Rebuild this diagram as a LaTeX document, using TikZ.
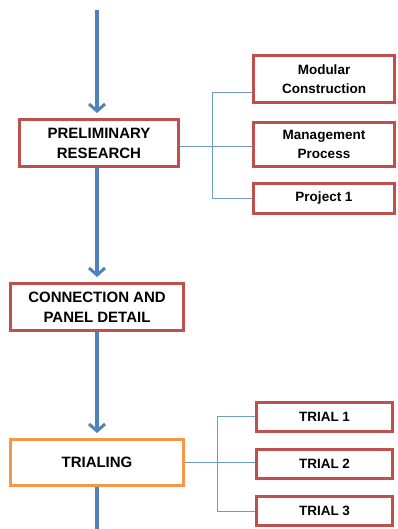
\documentclass[tikz,border=0pt]{standalone}
\usepackage{fontspec}
\setmainfont{Liberation Sans}
\usetikzlibrary{arrows.meta}
\definecolor{boxred}{HTML}{C0504D}
\definecolor{boxorange}{HTML}{F79646}
\definecolor{flowblue}{HTML}{4F81BD}
\definecolor{thinblue}{HTML}{7099CC}
\tikzset{
  mainbox/.style={draw=boxred, line width=3pt, fill=white, align=center,
    font=\fontsize{15}{20}\selectfont\bfseries, inner sep=0pt},
  subbox/.style={draw=boxred, line width=3pt, fill=white, align=center,
    font=\fontsize{13.5}{19}\selectfont\bfseries, inner sep=0pt},
  flow/.style={draw=flowblue, line width=4pt, -{Straight Barb[length=7pt,width=16pt,line width=3pt]}},
  flowplain/.style={draw=flowblue, line width=4pt},
  branch/.style={draw=thinblue, line width=0.8pt}
}
\begin{document}
\begin{tikzpicture}[x=1pt,y=-1pt]
\useasboundingbox[fill=white] (0,0) rectangle (398,529);

\node[mainbox, minimum width=159pt, minimum height=47pt] (prelim) at (99,143) {PRELIMINARY\\RESEARCH};
\node[mainbox, minimum width=173pt, minimum height=47pt] (conn) at (97,307) {CONNECTION AND\\PANEL DETAIL};
\node[mainbox, draw=boxorange, minimum width=173pt, minimum height=46pt] (trial) at (97,462.5) {TRIALING};

\node[subbox, minimum width=141pt, minimum height=47pt] (mod) at (324,79) {Modular\\Construction};
\node[subbox, minimum width=141pt, minimum height=44pt] (mgmt) at (324,144.5) {Management\\Process};
\node[subbox, minimum width=141pt, minimum height=30pt] (proj) at (324,198.5) {Project 1};

\node[subbox, minimum width=136pt, minimum height=29pt] (t1) at (324.5,417) {TRIAL 1};
\node[subbox, minimum width=136pt, minimum height=29pt] (t2) at (324.5,464) {TRIAL 2};
\node[subbox, minimum width=136pt, minimum height=29pt] (t3) at (324.5,511) {TRIAL 3};

\coordinate (start) at (97,10);
\coordinate (finish) at (97,529);
\draw[flow, shorten >=5pt] (start) -- (start |- prelim.north);
\draw[flow, shorten >=5pt] (start |- prelim.south) -- (start |- conn.north);
\draw[flow, shorten >=5pt] (conn.south) -- (trial.north);
\draw[flowplain] (trial.south) -- (finish);

% upper bracket
\coordinate (k1) at (212,92);
\coordinate (k2) at (212,146);
\coordinate (k3) at (212,198);
\draw[branch] (prelim.east |- k2) -- (k2 -| mgmt.west);
\draw[branch] (k1) -- (k3);
\draw[branch] (k1) -- (k1 -| mod.west);
\draw[branch] (k3) -- (k3 -| proj.west);

% lower bracket
\coordinate (m1) at (217,416);
\coordinate (m2) at (217,462);
\coordinate (m3) at (217,511);
\draw[branch] (trial.east |- m2) -- (m2 -| t2.west);
\draw[branch] (m1) -- (m3);
\draw[branch] (m1) -- (m1 -| t1.west);
\draw[branch] (m3) -- (m3 -| t3.west);
\end{tikzpicture}
\end{document}
